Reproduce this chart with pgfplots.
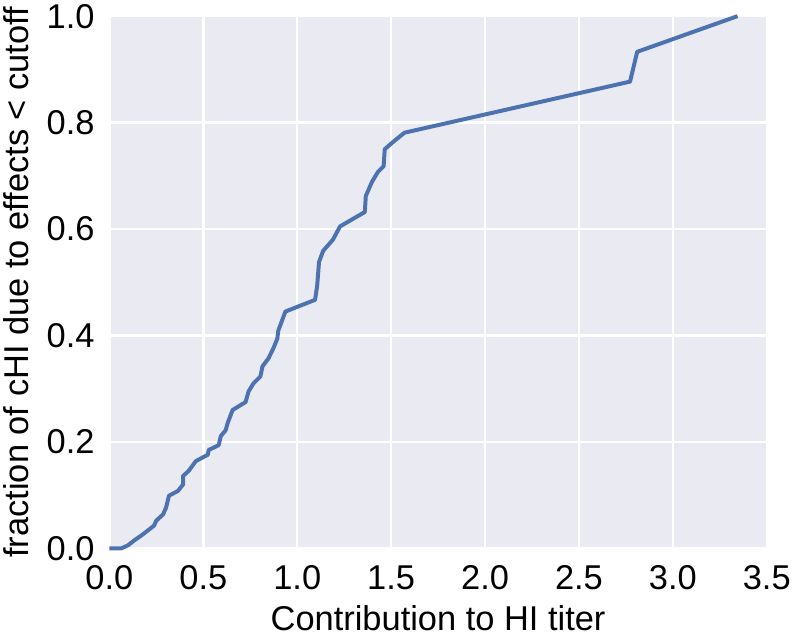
\documentclass[border=0pt]{standalone}
\usepackage{fontspec}
\setmainfont{Liberation Sans}
\usepackage{pgfplots}
\pgfplotsset{compat=1.18}
\definecolor{sbblue}{HTML}{4C72B0}
\definecolor{sbbg}{HTML}{EAEAF2}
\begin{document}
\fontsize{26}{31}\selectfont
\begin{tikzpicture}
\begin{axis}[
  scale only axis,
  width=496.5pt, height=402pt,
  xmin=0, xmax=3.5, ymin=0, ymax=1.0,
  xtick={0,0.5,...,3.5}, ytick={0,0.2,...,1.0},
  axis background/.style={fill=sbbg},
  axis line style={draw=none},
  major tick length=0pt,
  grid=major,
  grid style={white, line width=1.8pt},
  xticklabel style={/pgf/number format/.cd, fixed, fixed zerofill, precision=1},
  yticklabel style={/pgf/number format/.cd, fixed, fixed zerofill, precision=1},
  /pgf/number format/assume math mode=true,
  tick label style={font=\fontsize{26}{31}\selectfont, inner ysep=3pt, inner xsep=4pt},
  label style={font=\fontsize{26}{31}\selectfont, inner sep=0pt},
  ylabel style={inner ysep=3pt},
  xlabel style={inner ysep=4pt},
  xticklabel shift=10pt, yticklabel shift=7pt,
  xlabel={Contribution to HI titer},
  ylabel={fraction of cHI due to effects < cutoff},
  xlabel shift=4pt, ylabel shift=6pt,
  clip=false,
]
\addplot[sbblue, line width=3pt, line join=round] coordinates {
(0,0) (0.063,0) (0.10,0.006) (0.132,0.015) (0.169,0.024) (0.206,0.034)
(0.238,0.043) (0.249,0.052) (0.286,0.064) (0.302,0.077) (0.317,0.099)
(0.365,0.108) (0.392,0.120) (0.392,0.136) (0.423,0.146) (0.460,0.164)
(0.524,0.176) (0.529,0.185) (0.582,0.194) (0.593,0.211) (0.619,0.222)
(0.630,0.236) (0.656,0.260) (0.725,0.275) (0.741,0.295) (0.767,0.310)
(0.804,0.323) (0.815,0.342) (0.847,0.357) (0.873,0.376) (0.894,0.394)
(0.899,0.409) (0.937,0.445) (1.095,0.467) (1.106,0.493) (1.116,0.538)
(1.138,0.559) (1.190,0.580) (1.228,0.605) (1.360,0.632) (1.365,0.662)
(1.397,0.688) (1.429,0.707) (1.460,0.718) (1.466,0.750) (1.508,0.763)
(1.571,0.781) (2.772,0.877) (2.810,0.933) (3.344,1.0)
};
\end{axis}
\end{tikzpicture}
\end{document}
